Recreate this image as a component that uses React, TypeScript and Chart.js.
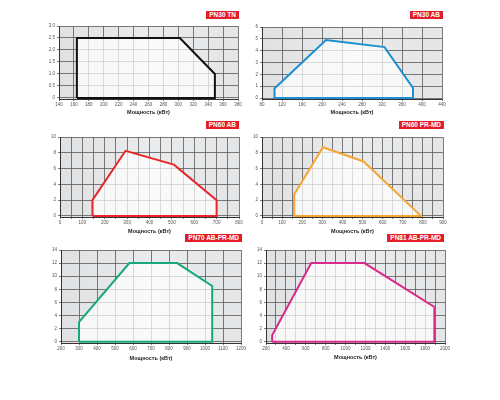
import React, { useEffect, useRef } from 'react';
import { Chart, registerables } from 'chart.js';
Chart.register(...registerables);

const AXIS_TITLE = 'Мощность (кВт)';
const FONT = "'Liberation Sans', Arial, sans-serif";

// PN30 TN
const pn30tnX = [164, 164, 302, 349, 349, 164];
const pn30tnY = [0, 2.5, 2.5, 1, 0, 0];
// PN30 AB
const pn30abX = [105, 105, 208, 325, 382, 382, 105];
const pn30abY = [0, 0.8, 4.9, 4.3, 0.85, 0, 0];
// PN60 AB
const pn60abX = [145, 145, 293, 509, 700, 700, 145];
const pn60abY = [0, 2, 8.25, 6.5, 2, 0, 0];
// PN60 PR-MD
const pn60prX = [160, 160, 303, 505, 790, 160];
const pn60prY = [0, 2.7, 8.7, 6.9, 0, 0];
// PN70 AB-PR-MD
const pn70X = [300, 300, 580, 845, 1040, 1040, 300];
const pn70Y = [0, 3, 12, 12, 8.5, 0, 0];
// PN81 AB-PR-MD
const pn81X = [262, 262, 655, 1190, 1893, 1893, 262];
const pn81Y = [0, 1, 12, 12, 5.3, 0, 0];

type Box = { l: number; r: number; t: number; b: number; title: number };
type Axis = { min: number; max: number; step: number; labelEvery: number };

// grey plot background, under the grid
const bgPlugin = {
  id: 'plotBg',
  beforeDraw(chart: any) {
    const { ctx, chartArea: a } = chart;
    const g = ctx.createLinearGradient(a.left, 0, a.right, 0);
    g.addColorStop(0, '#dfe1e3');
    g.addColorStop(0.5, '#eaebed');
    g.addColorStop(1, '#e3e5e7');
    ctx.save();
    ctx.fillStyle = g;
    ctx.fillRect(a.left, a.top, a.right - a.left, a.bottom - a.top);
    ctx.restore();
  },
};

// pale fill inside the closed outline (over the grid, under the line)
const shapeFill = {
  id: 'shapeFill',
  beforeDatasetsDraw(chart: any) {
    const pts = chart.getDatasetMeta(0).data;
    if (!pts.length) return;
    const { ctx } = chart;
    ctx.save();
    ctx.beginPath();
    pts.forEach((p: any, i: number) => (i ? ctx.lineTo(p.x, p.y) : ctx.moveTo(p.x, p.y)));
    ctx.closePath();
    ctx.fillStyle = 'rgba(255,255,255,0.72)';
    ctx.fill();
    ctx.restore();
  },
};

const Panel: React.FC<{ box: Box; xs: number[]; ys: number[]; color: string; xAxis: Axis; yAxis: Axis }> = (props) => {
  const ref = useRef<HTMLCanvasElement>(null);
  const padL = 24, padT = 6, padR = 8;
  const { box } = props;
  const left = box.l - padL;
  const top = box.t - padT;
  const width = box.r + padR - left;
  const height = Math.round(box.title + 3.3) - top;
  const xh = height - padT - (box.b - box.t);

  useEffect(() => {
    if (!ref.current) return;
    const tickFont = { size: 4.5, family: FONT };
    const ya = props.yAxis;
    // lift the zero line ~1px so the outline's bottom edge sits just above the axis, as in the original
    const yMin = ya.min - (ya.max - ya.min) * 0.014;
    const chart = new Chart(ref.current, {
      type: 'scatter',
      data: {
        datasets: [
          {
            data: props.xs.map((x, i) => ({ x, y: props.ys[i] })),
            showLine: true,
            borderColor: props.color,
            borderWidth: 2,
            borderJoinStyle: 'miter',
            pointRadius: 0,
            clip: false,
          } as any,
        ],
      },
      plugins: [bgPlugin, shapeFill],
      options: {
        responsive: false,
        animation: false,
        layout: { padding: { left: 0, top: padT, right: padR, bottom: 0 } },
        plugins: { legend: { display: false }, tooltip: { enabled: false } },
        scales: {
          x: {
            type: 'linear',
            min: props.xAxis.min,
            max: props.xAxis.max,
            afterFit: (s: any) => {
              s.height = xh;
              s.paddingLeft = 0;
              s.paddingRight = 0;
            },
            ticks: {
              stepSize: props.xAxis.step,
              autoSkip: false,
              maxRotation: 0,
              padding: 1,
              font: tickFont,
              color: '#555',
              callback: (v: any) => (Math.round(v) % props.xAxis.labelEvery === 0 ? String(v) : ''),
            },
            grid: { color: '#5a5a5a', lineWidth: 0.8, tickLength: 2 },
            border: { color: '#333' },
            title: {
              display: true,
              text: AXIS_TITLE,
              font: { size: 5.5, weight: 'bold', family: FONT },
              color: '#222',
              padding: 0,
            },
          },
          y: {
            min: yMin,
            max: ya.max,
            afterBuildTicks: (s: any) => {
              const t = [];
              for (let v = ya.min; v <= ya.max + 1e-9; v += ya.step) t.push({ value: Math.round(v * 100) / 100 });
              s.ticks = t;
            },
            afterFit: (s: any) => {
              s.width = padL;
              s.paddingTop = 0;
              s.paddingBottom = 0;
            },
            ticks: { autoSkip: false, padding: 2, font: tickFont, color: '#555' },
            grid: { color: '#5a5a5a', lineWidth: 0.8, tickLength: 2 },
            border: { color: '#333' },
          },
        },
      } as any,
    });
    return () => {
      chart.destroy();
    };
  }, []);

  return (
    <div style={{ position: 'absolute', left, top, width, height }}>
      <canvas ref={ref} width={width} height={height}></canvas>
    </div>
  );
};

const Badge: React.FC<{ text: string; right: number; top: number }> = ({ text, right, top }) => (
  <div
    style={{
      position: 'absolute',
      right: 500 - right,
      top,
      height: 8,
      lineHeight: '8px',
      padding: '0 3px',
      background: '#e31e26',
      color: '#fff',
      fontFamily: FONT,
      fontWeight: 'bold',
      fontSize: 6.5,
      whiteSpace: 'nowrap',
    }}
  >
    {text}
  </div>
);

const App: React.FC = () => {
  const y10 = { min: 0, max: 10, step: 2, labelEvery: 1 };
  const y14 = { min: 0, max: 14, step: 2, labelEvery: 1 };
  return (
    <div style={{ position: 'fixed', left: 0, top: 0, width: 500, height: 400, background: '#fff', overflow: 'hidden' }}>
      <Badge text="PN30 TN" right={239} top={11} />
      <Panel box={{ l: 59, r: 238, t: 26, b: 99, title: 113 }} xs={pn30tnX} ys={pn30tnY} color="#111111"
        xAxis={{ min: 140, max: 380, step: 20, labelEvery: 20 }} yAxis={{ min: 0, max: 3, step: 0.5, labelEvery: 1 }} />

      <Badge text="PN30 AB" right={443} top={11} />
      <Panel box={{ l: 262, r: 442, t: 27, b: 99, title: 113 }} xs={pn30abX} ys={pn30abY} color="#1b8fd1"
        xAxis={{ min: 80, max: 440, step: 40, labelEvery: 40 }} yAxis={{ min: 0, max: 6, step: 1, labelEvery: 1 }} />

      <Badge text="PN60 AB" right={239} top={121} />
      <Panel box={{ l: 60, r: 239, t: 137, b: 217, title: 232 }} xs={pn60abX} ys={pn60abY} color="#e8262c"
        xAxis={{ min: 0, max: 800, step: 50, labelEvery: 100 }} yAxis={y10} />

      <Badge text="PN60 PR-MD" right={444} top={121} />
      <Panel box={{ l: 262, r: 443, t: 137, b: 217, title: 232 }} xs={pn60prX} ys={pn60prY} color="#f6a534"
        xAxis={{ min: 0, max: 900, step: 50, labelEvery: 100 }} yAxis={y10} />

      <Badge text="PN70 AB-PR-MD" right={242} top={234} />
      <Panel box={{ l: 61, r: 241, t: 250, b: 343, title: 359 }} xs={pn70X} ys={pn70Y} color="#16a97c"
        xAxis={{ min: 200, max: 1200, step: 100, labelEvery: 100 }} yAxis={y14} />

      <Badge text="PN81 AB-PR-MD" right={444} top={234} />
      <Panel box={{ l: 266, r: 445, t: 250, b: 343, title: 358 }} xs={pn81X} ys={pn81Y} color="#d92a8c"
        xAxis={{ min: 200, max: 2000, step: 100, labelEvery: 200 }} yAxis={y14} />
    </div>
  );
};

export default App;
